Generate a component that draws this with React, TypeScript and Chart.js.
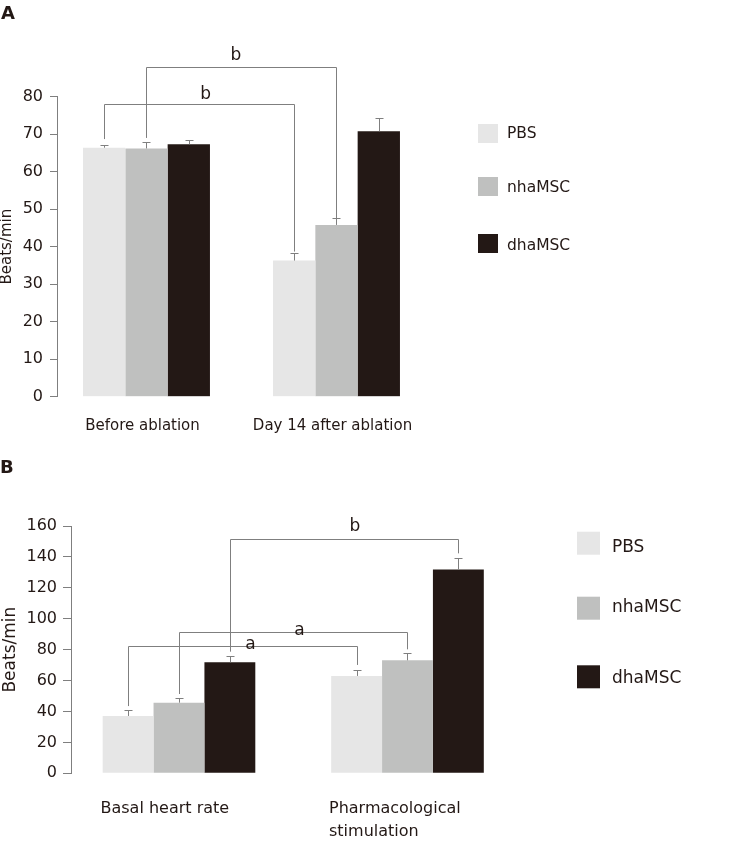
import React, { useEffect, useRef } from 'react';
import { Chart, registerables } from 'chart.js';

Chart.register(...registerables);

const FONT = '"DejaVu Sans", Verdana, sans-serif';
const TEXT_COLOR = '#231815';
const LINE_COLOR = '#7f7f7f';

const SERIES_NAMES = ['PBS', 'nhaMSC', 'dhaMSC'];
const SERIES_COLORS = ['#e6e6e6', '#bfc0bf', '#231815'];

// ---------- Panel A ----------
const A_CATEGORIES = [['Before ablation'], ['Day 14 after ablation']];
const A_PBS = [66.4, 36.3];
const A_NHAMSC = [66.2, 45.8];
const A_DHAMSC = [67.3, 70.8];
const A_PBS_SD = [0.6, 1.9];
const A_NHAMSC_SD = [1.8, 1.8];
const A_DHAMSC_SD = [1.2, 3.4];
const A_Y_TICKS = [0, 10, 20, 30, 40, 50, 60, 70, 80];
const A_BRACKET_SERIES = [0, 1];
const A_BRACKET_LEVEL = [78.0, 87.8];
const A_BRACKET_LEFT_END = [68.7, 69.0];
const A_BRACKET_RIGHT_END = [38.7, 47.6];
const A_BRACKET_LABEL = ['b', 'b'];
const A_BRACKET_LABEL_X = [0.311, 0.471];
const A_BRACKET_LABEL_Y = [79.3, 89.8];

// ---------- Panel B ----------
const B_CATEGORIES = [['Basal heart rate'], ['Pharmacological', 'stimulation']];
const B_PBS = [37.1, 63.0];
const B_NHAMSC = [45.7, 73.1];
const B_DHAMSC = [71.8, 131.8];
const B_PBS_SD = [3.7, 3.8];
const B_NHAMSC_SD = [2.8, 4.5];
const B_DHAMSC_SD = [4.3, 7.3];
const B_Y_TICKS = [0, 20, 40, 60, 80, 100, 120, 140, 160];
const B_BRACKET_SERIES = [0, 1, 2];
const B_BRACKET_LEVEL = [82.5, 91.6, 151.4];
const B_BRACKET_LEFT_END = [43.5, 51.3, 78.7];
const B_BRACKET_RIGHT_END = [70.1, 80.2, 142.3];
const B_BRACKET_LABEL = ['a', 'a', 'b'];
const B_BRACKET_LABEL_X = [0.313, 0.527, 0.77];
const B_BRACKET_LABEL_Y = [80.4, 89.5, 156.8];

type PanelCfg = {
  letter: string;
  top: number;
  height: number;
  categories: string[][];
  values: number[][];
  errors: number[][];
  yTicks: number[];
  bracketSeries: number[];
  bracketLevel: number[];
  bracketLeftEnd: number[];
  bracketRightEnd: number[];
  bracketLabel: string[];
  bracketLabelX: number[];
  bracketLabelY: number[];
  layout: {
    yAxisWidth: number;
    padTop: number;
    padBottom: number;
    padRight: number;
    xMin: number;
    xMax: number;
    tickLength: number;
    tickPadding: number;
    titleSize: number;
    titlePad: number;
    catSize: number;
    catAlign: 'center' | 'left';
    catOffset: number;
    catBaseline: number;
    catLineGap: number;
    legendX: number;
    legendW: number;
    legendH: number;
    legendTops: number[];
    legendTextX: number;
    legendBaselines: number[];
    legendSize: number;
    letterX: number;
    letterY: number;
  };
};

const PANEL_A: PanelCfg = {
  letter: 'A',
  top: 0,
  height: 445,
  categories: A_CATEGORIES,
  values: [A_PBS, A_NHAMSC, A_DHAMSC],
  errors: [A_PBS_SD, A_NHAMSC_SD, A_DHAMSC_SD],
  yTicks: A_Y_TICKS,
  bracketSeries: A_BRACKET_SERIES,
  bracketLevel: A_BRACKET_LEVEL,
  bracketLeftEnd: A_BRACKET_LEFT_END,
  bracketRightEnd: A_BRACKET_RIGHT_END,
  bracketLabel: A_BRACKET_LABEL,
  bracketLabelX: A_BRACKET_LABEL_X,
  bracketLabelY: A_BRACKET_LABEL_Y,
  layout: {
    yAxisWidth: 57,
    padTop: 96.7,
    padBottom: 48.3,
    padRight: 291,
    xMin: -0.471,
    xMax: 1.65,
    tickLength: 7,
    tickPadding: 7,
    titleSize: 15,
    titlePad: 0,
    catSize: 15,
    catAlign: 'center',
    catOffset: -4,
    catBaseline: 33.3,
    catLineGap: 23,
    legendX: 478,
    legendW: 20,
    legendH: 19,
    legendTops: [124, 177, 234],
    legendTextX: 507,
    legendBaselines: [137.7, 191.7, 250],
    legendSize: 15.5,
    letterX: 1,
    letterY: 19,
  },
};

const PANEL_B: PanelCfg = {
  letter: 'B',
  top: 445,
  height: 410,
  categories: B_CATEGORIES,
  values: [B_PBS, B_NHAMSC, B_DHAMSC],
  errors: [B_PBS_SD, B_NHAMSC_SD, B_DHAMSC_SD],
  yTicks: B_Y_TICKS,
  bracketSeries: B_BRACKET_SERIES,
  bracketLevel: B_BRACKET_LEVEL,
  bracketLeftEnd: B_BRACKET_LEFT_END,
  bracketRightEnd: B_BRACKET_RIGHT_END,
  bracketLabel: B_BRACKET_LABEL,
  bracketLabelX: B_BRACKET_LABEL_X,
  bracketLabelY: B_BRACKET_LABEL_Y,
  layout: {
    yAxisWidth: 71,
    padTop: 81,
    padBottom: 81.7,
    padRight: 231,
    xMin: -0.4726,
    xMax: 1.4924,
    tickLength: 8,
    tickPadding: 6,
    titleSize: 17,
    titlePad: 2.5,
    catSize: 16,
    catAlign: 'left',
    catOffset: -78.5,
    catBaseline: 39.7,
    catLineGap: 23,
    legendX: 577,
    legendW: 23,
    legendH: 23,
    legendTops: [86.7, 151.7, 220.3],
    legendTextX: 612,
    legendBaselines: [106.7, 166.7, 238.3],
    legendSize: 17,
    letterX: 0,
    letterY: 28,
  },
};

function crisp(v: number) {
  return Math.round(v) + 0.5;
}

function makeOverlay(cfg: PanelCfg) {
  const L = cfg.layout;
  return {
    id: 'overlay' + cfg.letter,
    afterDraw(chart: any) {
      const ctx: CanvasRenderingContext2D = chart.ctx;
      const xs = chart.scales.x;
      const ys = chart.scales.y;
      ctx.save();
      ctx.strokeStyle = LINE_COLOR;
      ctx.lineWidth = 1;

      // error bars (upper)
      cfg.errors.forEach((errs, di) => {
        const meta = chart.getDatasetMeta(di);
        meta.data.forEach((el: any, j: number) => {
          const v = cfg.values[di][j];
          const px = crisp(el.x);
          const top = crisp(ys.getPixelForValue(v + errs[j]));
          ctx.beginPath();
          ctx.moveTo(px, el.y);
          ctx.lineTo(px, top);
          ctx.moveTo(px - 4, top);
          ctx.lineTo(px + 4, top);
          ctx.stroke();
        });
      });

      // significance brackets
      cfg.bracketSeries.forEach((s, k) => {
        const meta = chart.getDatasetMeta(s);
        const xa = crisp(meta.data[0].x);
        const xb = crisp(meta.data[1].x);
        const yl = crisp(ys.getPixelForValue(cfg.bracketLevel[k]));
        const ya = ys.getPixelForValue(cfg.bracketLeftEnd[k]);
        const yb = ys.getPixelForValue(cfg.bracketRightEnd[k]);
        ctx.beginPath();
        ctx.moveTo(xa, ya);
        ctx.lineTo(xa, yl);
        ctx.lineTo(xb, yl);
        ctx.lineTo(xb, yb);
        ctx.stroke();
      });
      ctx.fillStyle = TEXT_COLOR;
      ctx.font = `17px ${FONT}`;
      ctx.textAlign = 'center';
      ctx.textBaseline = 'alphabetic';
      cfg.bracketLabel.forEach((t, k) => {
        ctx.fillText(
          t,
          xs.getPixelForValue(cfg.bracketLabelX[k]),
          ys.getPixelForValue(cfg.bracketLabelY[k])
        );
      });

      // category labels
      ctx.font = `${L.catSize}px ${FONT}`;
      ctx.textAlign = L.catAlign;
      cfg.categories.forEach((lines, i) => {
        const cx = xs.getPixelForValue(i) + L.catOffset;
        lines.forEach((line, li) => {
          ctx.fillText(line, cx, chart.chartArea.bottom + L.catBaseline + li * L.catLineGap);
        });
      });

      // legend
      ctx.font = `${L.legendSize}px ${FONT}`;
      ctx.textAlign = 'left';
      SERIES_NAMES.forEach((name, i) => {
        ctx.fillStyle = SERIES_COLORS[i];
        ctx.fillRect(L.legendX, L.legendTops[i], L.legendW, L.legendH);
        ctx.fillStyle = TEXT_COLOR;
        ctx.fillText(name, L.legendTextX, L.legendBaselines[i]);
      });

      // panel letter
      ctx.font = `bold 18px ${FONT}`;
      ctx.fillStyle = TEXT_COLOR;
      ctx.fillText(cfg.letter, L.letterX, L.letterY);
      ctx.restore();
    },
  };
}

function Panel({ cfg }: { cfg: PanelCfg }) {
  const ref = useRef<HTMLCanvasElement>(null);
  useEffect(() => {
    const L = cfg.layout;
    const chart = new Chart(ref.current as HTMLCanvasElement, {
      type: 'bar',
      data: {
        datasets: SERIES_NAMES.map((name, i) => ({
          label: name,
          data: cfg.values[i].map((v, j) => ({ x: j, y: v })),
          backgroundColor: SERIES_COLORS[i],
          borderWidth: 0,
          categoryPercentage: 0.668,
          barPercentage: 1,
        })),
      },
      options: {
        animation: false,
        responsive: false,
        devicePixelRatio: 1,
        layout: {
          padding: { top: L.padTop, bottom: L.padBottom, left: 0, right: L.padRight },
        },
        plugins: {
          legend: { display: false },
          tooltip: { enabled: false },
        },
        scales: {
          x: {
            type: 'linear',
            display: false,
            offset: false,
            grid: { offset: false },
            min: L.xMin,
            max: L.xMax,
            afterBuildTicks: (s: any) => {
              s.ticks = cfg.categories.map((_, i) => ({ value: i }));
            },
          },
          y: {
            type: 'linear',
            min: cfg.yTicks[0],
            max: cfg.yTicks[cfg.yTicks.length - 1],
            afterBuildTicks: (s: any) => {
              s.ticks = cfg.yTicks.map((v) => ({ value: v }));
            },
            afterFit: (s: any) => {
              s.width = L.yAxisWidth;
            },
            ticks: {
              color: TEXT_COLOR,
              padding: L.tickPadding,
              font: { family: FONT, size: 16 },
            },
            grid: {
              drawOnChartArea: false,
              drawTicks: true,
              tickLength: L.tickLength,
              color: LINE_COLOR,
              lineWidth: 1,
            },
            border: { display: true, color: LINE_COLOR, width: 1 },
            title: {
              display: true,
              text: 'Beats/min',
              color: TEXT_COLOR,
              font: { family: FONT, size: L.titleSize, lineHeight: 1 },
              padding: { top: L.titlePad, bottom: 0 },
            },
          },
        },
      },
      plugins: [makeOverlay(cfg)],
    } as any);
    return () => chart.destroy();
  }, [cfg]);
  return (
    <canvas
      ref={ref}
      width={751}
      height={cfg.height}
      style={{
        position: 'absolute',
        left: 0,
        top: cfg.top,
        width: 751,
        height: cfg.height,
        display: 'block',
      }}
    />
  );
}

export default function App() {
  return (
    <div
      style={{
        position: 'absolute',
        left: 0,
        top: 0,
        width: 751,
        height: 855,
        background: '#ffffff',
        overflow: 'hidden',
      }}
    >
      <Panel cfg={PANEL_A} />
      <Panel cfg={PANEL_B} />
    </div>
  );
}
